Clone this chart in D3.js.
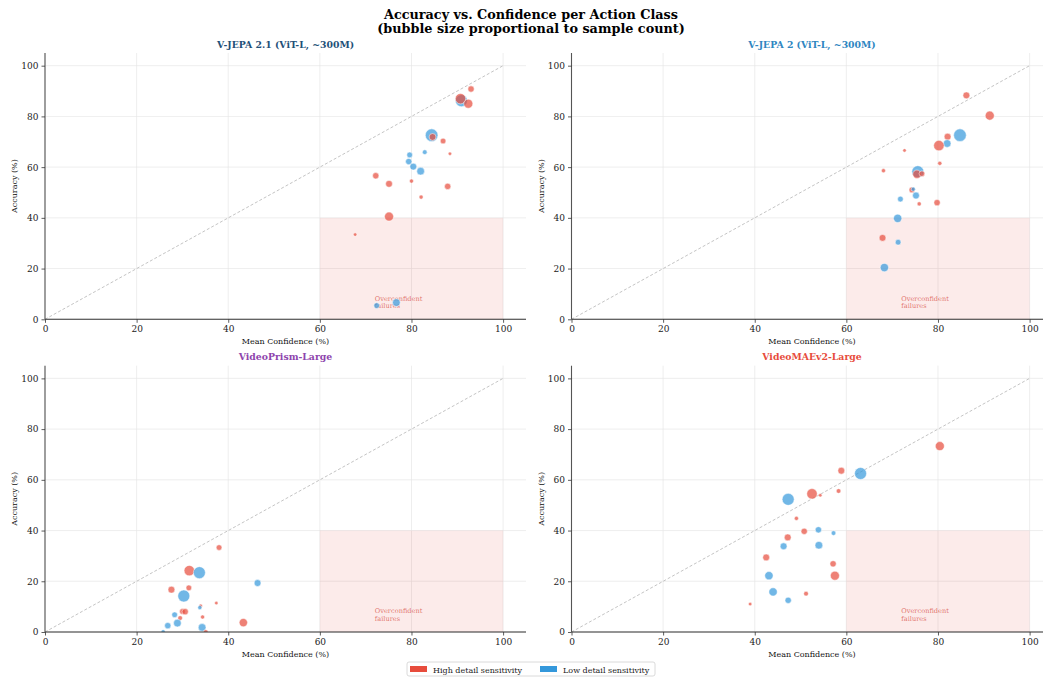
<!DOCTYPE html>
<html>
<head>
<meta charset="utf-8">
<script src="https://cdn.jsdelivr.net/npm/d3@7"></script>
<style>
  html, body { margin: 0; padding: 0; background: #fff; }
  svg { display: block; font-family: "DejaVu Serif", serif; }
</style>
</head>
<body>
<svg id="chart" width="1043" height="677"></svg>
<script>
// ---------------- DATA ----------------
const mainTitle = ["Accuracy vs. Confidence per Action Class", "(bubble size proportional to sample count)"];
const modelNames = ["V-JEPA 2.1 (ViT-L, ~300M)", "V-JEPA 2 (ViT-L, ~300M)", "VideoPrism-Large", "VideoMAEv2-Large"];
const modelColors = ["#1f5078", "#2e86c1", "#8e44ad", "#e74c3c"];
const groupLabels = ["High detail sensitivity", "Low detail sensitivity"];
const groupColors = ["#e74c3c", "#3498db"];
const tickValues = [0, 20, 40, 60, 80, 100];

// per model: mean confidence (%), accuracy (%), sample count, group (H = high, L = low)
const vjepa21Conf  = [90.9, 90.7, 93.0, 92.4, 84.4, 84.6, 86.9, 82.9, 88.4, 79.6, 79.4, 80.4, 82.0, 72.2, 75.1, 80.0, 87.9, 82.1, 75.1, 67.7, 72.4, 76.7];
const vjepa21Acc   = [86.2, 87.0, 90.8, 85.0, 72.6, 71.9, 70.3, 65.9, 65.3, 64.8, 62.2, 60.2, 58.4, 56.6, 53.4, 54.5, 52.4, 48.2, 40.5, 33.4, 5.4, 6.6];
const vjepa21Count = [58, 44, 16, 33, 64, 19, 13, 9, 5, 13, 16, 19, 24, 16, 19, 7, 16, 7, 33, 5, 13, 24];
const vjepa21Group = ["L","H","H","H","L","H","H","L","H","L","L","L","L","H","H","H","H","H","H","H","L","L"];

const vjepa2Conf  = [86.2, 91.3, 84.8, 82.1, 82.0, 80.2, 72.7, 68.1, 80.4, 75.6, 75.4, 76.5, 74.3, 74.6, 75.2, 71.8, 75.9, 79.8, 71.2, 67.9, 71.3, 68.3];
const vjepa2Acc   = [88.3, 80.3, 72.6, 72.0, 69.3, 68.5, 66.6, 58.6, 61.5, 58.2, 57.2, 57.4, 51.0, 51.3, 48.8, 47.4, 45.5, 46.0, 39.8, 32.1, 30.4, 20.4];
const vjepa2Count = [19, 33, 64, 19, 24, 44, 5, 7, 7, 58, 28, 13, 13, 7, 19, 13, 7, 16, 28, 19, 13, 28];
const vjepa2Group = ["H","H","L","H","L","H","H","H","H","L","H","H","H","L","L","L","H","H","L","H","L","L"];

const prismConf  = [38.0, 31.5, 33.7, 46.4, 27.6, 31.4, 30.3, 37.4, 34.0, 33.8, 30.0, 30.6, 34.4, 28.3, 29.5, 28.9, 26.8, 43.3, 34.3, 25.8, 35.1];
const prismAcc   = [33.3, 24.2, 23.4, 19.3, 16.7, 17.4, 14.2, 11.4, 10.3, 9.6, 8.1, 8.0, 5.9, 6.8, 5.5, 3.5, 2.5, 3.7, 1.8, 0.1, 0.0];
const prismCount = [13, 44, 58, 19, 19, 13, 58, 5, 5, 7, 13, 16, 7, 13, 9, 24, 16, 28, 24, 7, 9];
const prismGroup = ["H","H","L","L","H","H","L","H","H","L","H","H","H","L","H","L","L","H","L","L","H"];

const maeConf  = [80.4, 58.9, 63.1, 52.5, 47.3, 54.3, 58.3, 49.1, 53.9, 57.2, 50.8, 47.2, 46.3, 54.0, 42.5, 57.1, 43.1, 57.5, 44.0, 51.2, 47.3, 39.0];
const maeAcc   = [73.3, 63.6, 62.5, 54.5, 52.3, 53.9, 55.6, 44.8, 40.3, 39.0, 39.7, 37.3, 33.8, 34.2, 29.4, 26.9, 22.2, 22.2, 15.8, 15.1, 12.5, 11.0];
const maeCount = [33, 19, 58, 44, 58, 5, 9, 7, 16, 9, 16, 19, 19, 24, 19, 16, 28, 33, 28, 9, 16, 5];
const maeGroup = ["H","H","L","H","L","H","H","H","L","L","H","H","L","L","H","H","L","H","L","H","L","H"];

const panelData = [
  [vjepa21Conf, vjepa21Acc, vjepa21Count, vjepa21Group],
  [vjepa2Conf, vjepa2Acc, vjepa2Count, vjepa2Group],
  [prismConf, prismAcc, prismCount, prismGroup],
  [maeConf, maeAcc, maeCount, maeGroup]
];

// ---------------- LAYOUT ----------------
const svg = d3.select("#chart");
const W = 481, H = 266.3;
const origins = [[45, 53], [571.5, 53], [45, 365.7], [571.5, 365.7]];

const x = d3.scaleLinear().domain([0, 105]).range([0, W]);
const y = d3.scaleLinear().domain([0, 105]).range([H, 0]);
const r = d3.scaleSqrt().domain([0, 64]).range([0, 6.3]);

// main title
svg.append("text").attr("x", 531).attr("y", 19).attr("text-anchor", "middle")
  .attr("font-size", 12.8).attr("font-weight", "bold").attr("fill", "#000").text(mainTitle[0]);
svg.append("text").attr("x", 531).attr("y", 32.5).attr("text-anchor", "middle")
  .attr("font-size", 12.8).attr("font-weight", "bold").attr("fill", "#000").text(mainTitle[1]);

const defs = svg.append("defs");

panelData.forEach((pd, i) => {
  const [ox, oy] = origins[i];
  const g = svg.append("g").attr("transform", `translate(${ox},${oy})`);

  defs.append("clipPath").attr("id", "clip" + i)
    .append("rect").attr("x", 0).attr("y", 0).attr("width", W).attr("height", H);

  // grid
  const grid = g.append("g");
  tickValues.forEach(t => {
    grid.append("line").attr("x1", x(t)).attr("x2", x(t)).attr("y1", 0).attr("y2", H)
      .attr("stroke", "#e6e6e6").attr("stroke-width", 0.8).attr("opacity", 0.8);
    grid.append("line").attr("x1", 0).attr("x2", W).attr("y1", y(t)).attr("y2", y(t))
      .attr("stroke", "#e6e6e6").attr("stroke-width", 0.8).attr("opacity", 0.8);
  });

  // overconfident region
  g.append("rect").attr("x", x(60)).attr("y", y(40))
    .attr("width", x(100) - x(60)).attr("height", y(0) - y(40))
    .attr("fill", "#e74c3c").attr("fill-opacity", 0.11);

  // diagonal
  g.append("line").attr("x1", x(0)).attr("y1", y(0)).attr("x2", x(100)).attr("y2", y(100))
    .attr("stroke", "#b5b5b5").attr("stroke-width", 0.8).attr("stroke-dasharray", "3,2");

  // label in region
  const lab = g.append("text").attr("font-size", 6.6).attr("fill", "#d9544a").attr("fill-opacity", 0.8);
  lab.append("tspan").attr("x", x(72)).attr("y", y(7.3)).text("Overconfident");
  lab.append("tspan").attr("x", x(72)).attr("y", y(4.3)).text("failures");

  // bubbles
  const [conf, acc, cnt, grp] = pd;
  const pts = conf.map((c, k) => ({ c, a: acc[k], n: cnt[k], g: grp[k] }));
  g.append("g").attr("clip-path", `url(#clip${i})`)
    .selectAll("circle").data(pts).join("circle")
    .attr("cx", d => x(d.c)).attr("cy", d => y(d.a)).attr("r", d => r(d.n))
    .attr("fill", d => d.g === "H" ? groupColors[0] : groupColors[1])
    .attr("fill-opacity", 0.7)
    .attr("stroke", "#fff").attr("stroke-width", 0.5);

  // axes
  const xAxis = g.append("g").attr("transform", `translate(0,${H})`)
    .call(d3.axisBottom(x).tickValues(tickValues).tickSize(3.5).tickPadding(3));
  const yAxis = g.append("g")
    .call(d3.axisLeft(y).tickValues(tickValues).tickSize(3.5).tickPadding(3));
  [xAxis, yAxis].forEach(ax => {
    ax.selectAll("text").attr("font-family", "DejaVu Serif").attr("font-size", 9).attr("fill", "#222");
    ax.selectAll("line").attr("stroke", "#333").attr("stroke-width", 0.8);
    ax.select(".domain").attr("stroke", "#333").attr("stroke-width", 1.1);
  });
  xAxis.select(".domain").attr("d", `M0,0H${W}`);
  yAxis.select(".domain").attr("d", `M0,${H}V0`).attr("stroke", "#555");

  // axis labels
  g.append("text").attr("x", W / 2).attr("y", H + 25).attr("text-anchor", "middle")
    .attr("font-size", 8).attr("fill", "#111").text("Mean Confidence (%)");
  g.append("text").attr("transform", `translate(-28,${H / 2}) rotate(-90)`).attr("text-anchor", "middle")
    .attr("font-size", 8).attr("fill", "#111").text("Accuracy (%)");

  // panel title
  g.append("text").attr("x", W / 2).attr("y", -5.5).attr("text-anchor", "middle")
    .attr("font-size", 9.3).attr("font-weight", "bold").attr("fill", modelColors[i]).text(modelNames[i]);
});

// legend
const leg = svg.append("g");
leg.append("rect").attr("x", 407).attr("y", 662).attr("width", 248).attr("height", 14).attr("rx", 2)
  .attr("fill", "#fff").attr("stroke", "#d0d0d0").attr("stroke-width", 0.8);
const legX = [410, 540];
groupLabels.forEach((lbl, k) => {
  leg.append("rect").attr("x", legX[k]).attr("y", 666).attr("width", 17).attr("height", 6)
    .attr("fill", groupColors[k]);
  leg.append("text").attr("x", legX[k] + 23).attr("y", 672.5).attr("font-size", 8)
    .attr("fill", "#222").text(lbl);
});
</script>
</body>
</html>
